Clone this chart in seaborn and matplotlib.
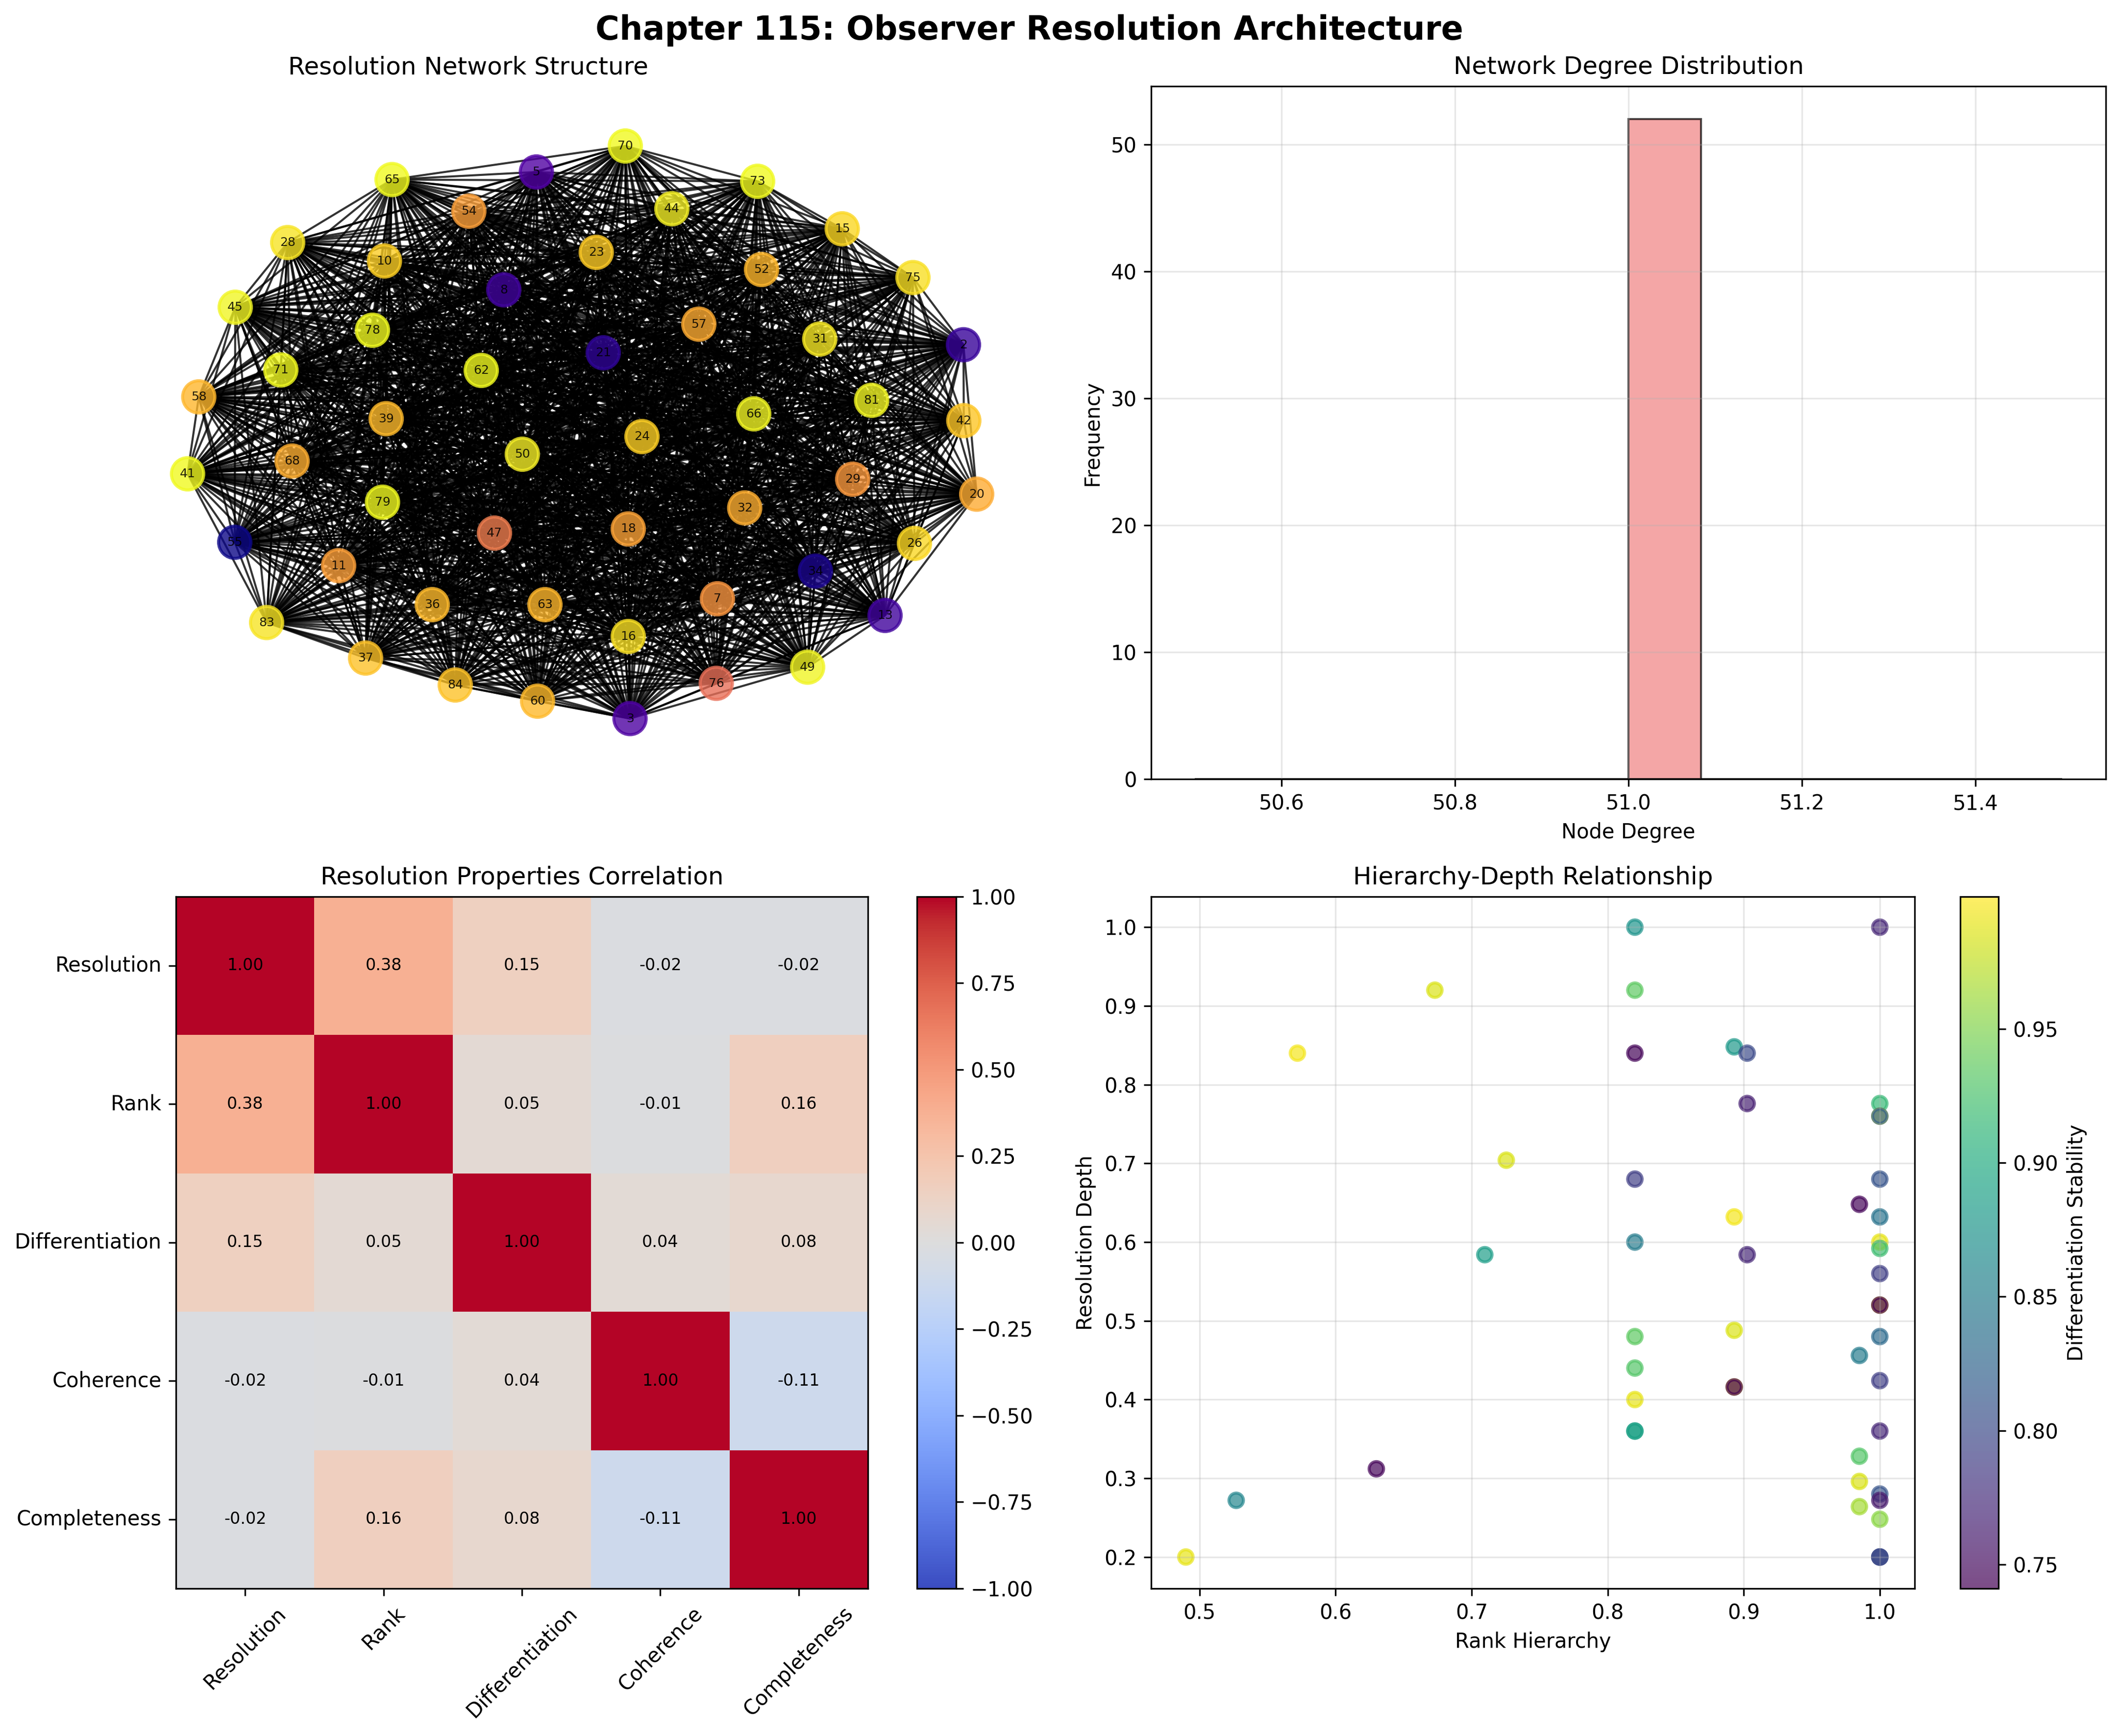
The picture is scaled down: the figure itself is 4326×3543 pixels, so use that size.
from itertools import combinations

import numpy as np
import pandas as pd
import matplotlib
matplotlib.use('Agg')
import matplotlib.pyplot as plt
from matplotlib.collections import LineCollection
import seaborn as sns

W, H = 4326, 3543

# network layout and node values
node_ids = [65, 5, 54, 28, 10, 8, 45, 78, 71, 62, 58, 39,
            70, 73, 44, 15, 23, 52, 75, 57, 31, 2, 21, 81, 66, 42, 24,
            50, 68, 41, 79, 47, 55, 11, 36, 63, 83, 37, 84, 60,
            29, 20, 32, 18, 26, 34, 7, 13, 16, 49, 76, 3]
node_x = [800, 1094.5, 956.7, 587, 784.5, 1028, 480, 760, 573, 982, 405.6, 788,
          1276, 1546, 1371, 1718.6, 1216.7, 1554, 1863, 1426, 1672.7, 1966, 1231, 1778.6, 1538, 1966.7, 1310,
          1065.8, 596, 382.7, 780.5, 1009, 479, 691, 882, 1112, 544, 746, 929, 1097,
          1740, 1993, 1519.6, 1282, 1866, 1664, 1464, 1806, 1282, 1648, 1461.6, 1285.6]
node_y = [366.5, 351, 431, 495, 532.6, 591.5, 627, 674, 755, 756, 810, 854.5,
          298, 370, 426, 467, 515, 550, 566.5, 661.6, 692, 703.6, 720, 817, 844.6, 858.5, 891,
          927, 941, 967, 1025, 1088, 1106.7, 1154.5, 1234, 1234, 1270.5, 1343, 1398, 1431,
          978, 1008.5, 1036.6, 1079.5, 1109, 1165.6, 1222, 1256, 1299, 1361.6, 1394.6, 1466.5]
node_val = [1.0, 0.14, 0.78, 0.95, 0.90, 0.10, 0.99, 1.0, 1.0, 1.0, 0.84, 0.85,
            1.0, 1.0, 0.975, 0.92, 0.89, 0.84, 0.94, 0.81, 0.96, 0.08, 0.06, 0.99, 0.99, 0.88, 0.90,
            0.97, 0.82, 1.0, 1.0, 0.68, 0.0, 0.78, 0.85, 0.84, 0.95, 0.87, 0.87, 0.85,
            0.76, 0.81, 0.82, 0.79, 0.92, 0.02, 0.75, 0.10, 0.94, 0.985, 0.64, 0.13]

degrees = [51] * 52

props = ['Resolution', 'Rank', 'Differentiation', 'Coherence', 'Completeness']
corr = [[1.00, 0.38, 0.15, -0.02, -0.02],
        [0.38, 1.00, 0.05, -0.01, 0.16],
        [0.15, 0.05, 1.00, 0.04, 0.08],
        [-0.02, -0.01, 0.04, 1.00, -0.11],
        [-0.02, 0.16, 0.08, -0.11, 1.00]]

rank_h = [0.82, 1.0, 0.82, 0.82, 0.893, 0.9025, 0.9025, 1.0, 1.0, 1.0, 0.7255, 0.82, 1.0, 0.985, 0.893, 1.0, 0.82, 1.0, 1.0, 0.7097, 0.9025,
          1.0, 1.0, 1.0, 0.82, 0.893, 1.0, 0.985, 0.82, 1.0, 0.893, 0.893, 0.82, 0.82, 0.82, 1.0, 0.985, 0.985, 1.0, 1.0, 0.985, 1.0, 1.0, 1.0, 1.0,
          0.49, 0.572, 0.673, 0.63, 0.527]
depth = [1.0, 1.0, 0.92, 0.84, 0.848, 0.84, 0.776, 0.776, 0.76, 0.76, 0.704, 0.68, 0.68, 0.648, 0.632, 0.632, 0.60, 0.60, 0.592, 0.584, 0.584,
         0.56, 0.52, 0.52, 0.48, 0.488, 0.48, 0.456, 0.44, 0.424, 0.416, 0.416, 0.40, 0.36, 0.36, 0.36, 0.328, 0.296, 0.28, 0.272, 0.264, 0.248, 0.20, 0.20, 0.20,
         0.20, 0.84, 0.92, 0.312, 0.272]
stability = [0.875, 0.77, 0.935, 0.745, 0.88, 0.80, 0.765, 0.915, 0.99, 0.82, 0.985, 0.79, 0.81, 0.745, 0.995, 0.84, 0.85, 0.99, 0.92, 0.885, 0.77,
             0.79, 0.99, 0.741, 0.935, 0.985, 0.83, 0.85, 0.93, 0.79, 0.99, 0.741, 0.99, 0.89, 0.89, 0.77, 0.93, 0.985, 0.81, 0.76, 0.965, 0.955, 0.80, 0.80, 0.80,
             0.99, 0.995, 0.985, 0.745, 0.86]


def add_ax(fig, left, top, right, bottom):
    return fig.add_axes([left / W, 1 - bottom / H, (right - left) / W, (bottom - top) / H])


fig = plt.figure(figsize=(W / 300, H / 300), dpi=300)
fig.suptitle('Chapter 115: Observer Resolution Architecture', fontsize=16, fontweight='bold', x=0.4855, y=0.9825, va='center')

# network
ax1 = add_ax(fig, -150, 176, 2060, 1590)
nodes = pd.DataFrame({'x': node_x, 'y': node_y, 'val': node_val, 'id': node_ids})
pts = nodes[['x', 'y']].to_numpy()
segs = [(pts[i], pts[j]) for i, j in combinations(range(len(pts)), 2)]
ax1.add_collection(LineCollection(segs, colors='black', linewidths=1.0, alpha=0.8, zorder=1))
sns.scatterplot(data=nodes, x='x', y='y', hue='val', palette='plasma', hue_norm=(0, 1), s=250, alpha=0.8,
                edgecolor='face', linewidth=1.5, legend=False, ax=ax1, zorder=2)
for _, row in nodes.iterrows():
    ax1.text(row['x'], row['y'], str(int(row['id'])), fontsize=6, ha='center', va='center', alpha=0.85, zorder=3)
ax1.set_xlim(-150, 2060)
ax1.set_ylim(1590, 176)
ax1.set_title('Resolution Network Structure', fontsize=12)
ax1.axis('off')

# degree histogram
ax2 = add_ax(fig, 2349, 176, 4297, 1590)
sns.histplot(x=degrees, bins=12, binrange=(50.5, 51.5), color='lightcoral', alpha=0.7, edgecolor=(0, 0, 0, 0.7),
             linewidth=1.0, ax=ax2)
ax2.set_xlim(50.45, 51.55)
ax2.set_ylim(0, 54.6)
ax2.set_title('Network Degree Distribution', fontsize=12)
ax2.set_xlabel('Node Degree')
ax2.set_ylabel('Frequency')
ax2.grid(True, alpha=0.3)

# correlation heatmap
ax3 = add_ax(fig, 359, 1829.6, 1771, 3242)
cax3 = add_ax(fig, 1871, 1829.6, 1951, 3242)
corr_df = pd.DataFrame(corr, index=props, columns=props)
sns.heatmap(corr_df, annot=True, fmt='.2f', cmap='coolwarm', vmin=-1, vmax=1, annot_kws={'size': 8, 'color': 'black'},
            ax=ax3, cbar_ax=cax3)
ax3.set_title('Resolution Properties Correlation', fontsize=12)
ax3.tick_params(axis='x', rotation=45)
ax3.tick_params(axis='y', rotation=0)
for sp in ax3.spines.values():
    sp.set_visible(True)
cbar3 = ax3.collections[0].colorbar
cbar3.set_ticks(np.arange(-1, 1.01, 0.25))
cbar3.outline.set_linewidth(0.8)

# hierarchy vs depth
ax4 = add_ax(fig, 2349, 1829.6, 3907.5, 3242)
cax4 = add_ax(fig, 4000, 1829.6, 4078, 3242)
scat = pd.DataFrame({'rank': rank_h, 'depth': depth, 'stab': stability})
vmin, vmax = 0.741, 0.9995
sns.scatterplot(data=scat, x='rank', y='depth', hue='stab', palette='viridis', hue_norm=(vmin, vmax), s=50, alpha=0.7,
                edgecolor='face', linewidth=1.5, legend=False, ax=ax4)
ax4.set_xlim(0.4645, 1.0258)
ax4.set_ylim(0.16, 1.039)
ax4.set_title('Hierarchy-Depth Relationship', fontsize=12)
ax4.set_xlabel('Rank Hierarchy')
ax4.set_ylabel('Resolution Depth')
ax4.grid(True, alpha=0.3)
sm = plt.cm.ScalarMappable(cmap='viridis', norm=plt.Normalize(vmin, vmax))
cb = fig.colorbar(sm, cax=cax4, alpha=0.7)
cb.set_label('Differentiation Stability')
cb.set_ticks([0.75, 0.80, 0.85, 0.90, 0.95])

fig.savefig('out.png', dpi=300)
